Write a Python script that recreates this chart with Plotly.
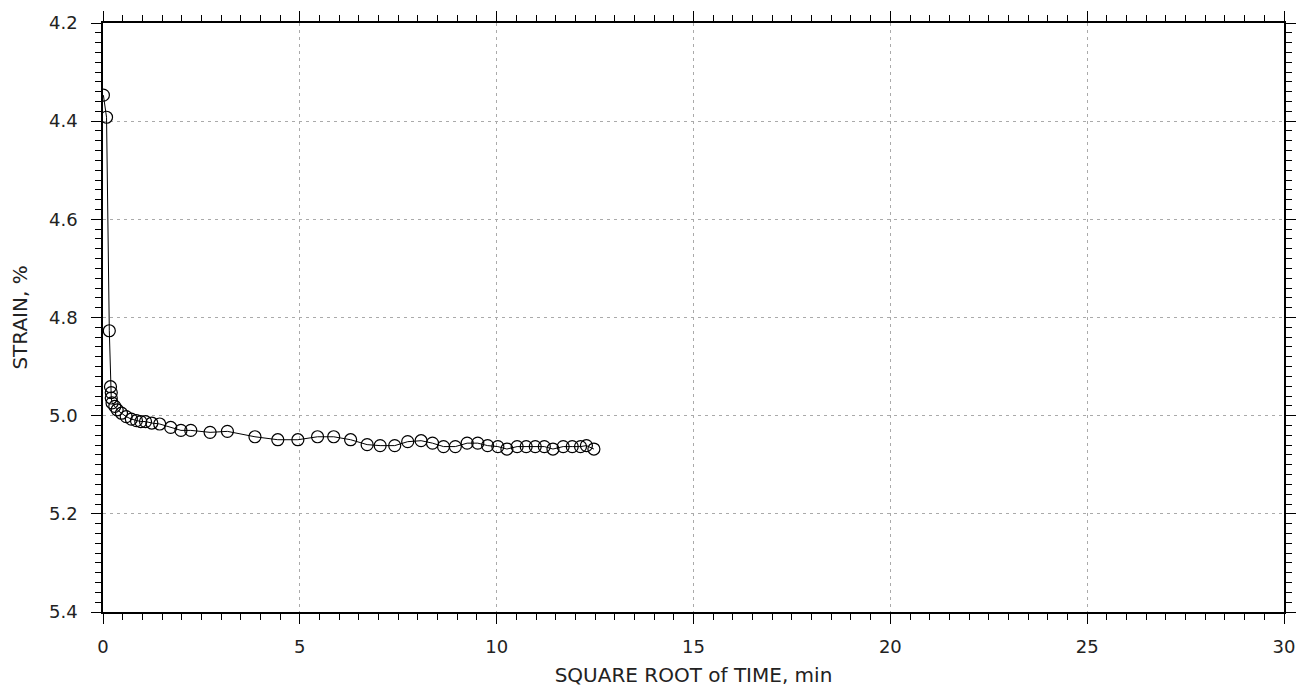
import plotly.graph_objects as go

sqrt_time = [0.01, 0.09, 0.16, 0.19, 0.21, 0.21, 0.23, 0.30, 0.36, 0.47, 0.59, 0.72, 0.85, 0.96, 1.08,
             1.24, 1.44, 1.72, 1.98, 2.23, 2.72, 3.16, 3.86, 4.44, 4.95, 5.45, 5.86, 6.29, 6.71, 7.04,
             7.41, 7.74, 8.08, 8.37, 8.65, 8.95, 9.25, 9.52, 9.77, 10.03, 10.26, 10.52, 10.75, 10.98,
             11.21, 11.43, 11.69, 11.92, 12.13, 12.28, 12.47]
strain = [4.347, 4.392, 4.827, 4.941, 4.953, 4.964, 4.974, 4.981, 4.988, 4.995, 5.002, 5.007, 5.010, 5.012, 5.012,
          5.015, 5.017, 5.024, 5.030, 5.030, 5.034, 5.032, 5.043, 5.049, 5.049, 5.043, 5.043, 5.049, 5.059, 5.061,
          5.061, 5.053, 5.051, 5.056, 5.063, 5.063, 5.056, 5.056, 5.061, 5.063, 5.068, 5.063, 5.063, 5.063,
          5.063, 5.068, 5.063, 5.063, 5.063, 5.061, 5.068]

x_ticks = [0, 5, 10, 15, 20, 25, 30]
y_ticks = [4.2, 4.4, 4.6, 4.8, 5.0, 5.2, 5.4]

FONT = "DejaVu Sans, Liberation Sans, sans-serif"

fig = go.Figure()
fig.add_trace(go.Scatter(
    x=sqrt_time, y=strain, mode="lines+markers",
    line=dict(color="black", width=1),
    marker=dict(symbol="circle-open", size=12, color="black", line=dict(width=1.2)),
    showlegend=False,
))

axis_common = dict(
    showline=True, linecolor="black", linewidth=1.5, mirror="allticks",
    ticks="outside", ticklen=10, tickwidth=1.2, tickcolor="black",
    showgrid=True, gridcolor="#aaaaaa", griddash="3px,4px", gridwidth=1,
    zeroline=False, automargin=False,
    tickfont=dict(family=FONT, size=18, color="#222"),
)

fig.update_xaxes(
    range=[0, 30], tickvals=x_ticks, ticktext=[str(v) for v in x_ticks],
    minor=dict(dtick=0.5, ticks="outside", ticklen=6, tickwidth=1, tickcolor="black", showgrid=False),
    ticklabelstandoff=8,
    title=dict(text="SQUARE ROOT of TIME, min", font=dict(family=FONT, size=20, color="#222"), standoff=12),
    **axis_common,
)
fig.update_yaxes(
    range=[5.4, 4.2], tickvals=y_ticks, ticktext=[f"{v:.1f}" for v in y_ticks],
    minor=dict(dtick=0.02, ticks="outside", ticklen=6, tickwidth=1, tickcolor="black", showgrid=False),
    ticklabelstandoff=10,
    title=dict(text="STRAIN, %", font=dict(family=FONT, size=20, color="#222"), standoff=17),
    **axis_common,
)

fig.update_layout(
    width=1303, height=682,
    margin=dict(l=95, r=27, t=15, b=78),
    plot_bgcolor="white", paper_bgcolor="white",
)

fig.write_html("out.html")
